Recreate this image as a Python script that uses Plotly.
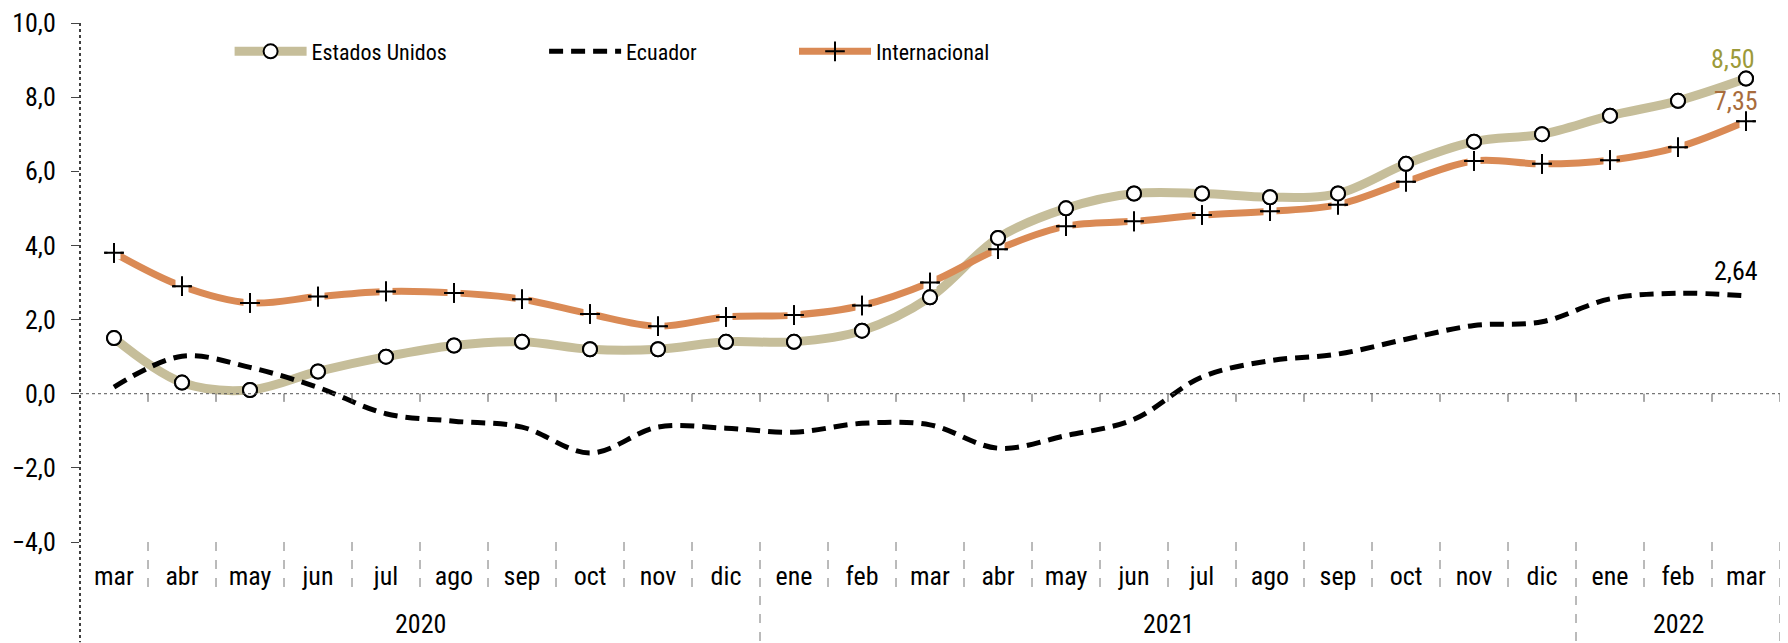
import plotly.graph_objects as go

months = ["mar", "abr", "may", "jun", "jul", "ago", "sep", "oct", "nov", "dic",
          "ene", "feb", "mar", "abr", "may", "jun", "jul", "ago", "sep", "oct", "nov", "dic",
          "ene", "feb", "mar"]
years = ["2020", "2021", "2022"]
year_spans = [(0, 9), (10, 21), (22, 24)]

estados_unidos = [1.5, 0.3, 0.1, 0.6, 1.0, 1.3, 1.4, 1.2, 1.2, 1.4,
                  1.4, 1.7, 2.6, 4.2, 5.0, 5.4, 5.4, 5.3, 5.4, 6.2, 6.8, 7.0,
                  7.5, 7.9, 8.5]
ecuador = [0.18, 1.01, 0.71, 0.17, -0.54, -0.74, -0.90, -1.60, -0.90, -0.93,
           -1.04, -0.80, -0.84, -1.47, -1.13, -0.69, 0.45, 0.89, 1.07, 1.47, 1.84, 1.94,
           2.56, 2.71, 2.64]
internacional = [3.80, 2.90, 2.45, 2.62, 2.76, 2.72, 2.55, 2.15, 1.82, 2.07,
                 2.12, 2.38, 3.00, 3.90, 4.52, 4.65, 4.82, 4.92, 5.10, 5.72, 6.28, 6.20,
                 6.30, 6.65, 7.35]

x = list(range(len(months)))
FONT = ("Roboto Condensed, Noto Sans Condensed, DejaVu Sans Condensed, "
        "Liberation Sans Narrow, Arial Narrow, Liberation Sans, Arial, sans-serif")
US_COLOR = "#C6BE9A"
INT_COLOR = "#DA8A55"

fig = go.Figure()

fig.add_trace(go.Scatter(
    x=x, y=estados_unidos, name="Estados Unidos", mode="lines+markers",
    line=dict(color=US_COLOR, width=9, shape="spline", smoothing=1),
    marker=dict(symbol="circle", size=14, color="white", line=dict(color="black", width=2)),
    legend="legend", cliponaxis=False))

fig.add_trace(go.Scatter(
    x=x, y=ecuador, name="Ecuador", mode="lines",
    line=dict(color="black", width=5, dash="14px,8px", shape="spline", smoothing=1),
    legend="legend2", cliponaxis=False))

fig.add_trace(go.Scatter(
    x=x, y=internacional, name="Internacional", mode="lines+markers",
    line=dict(color=INT_COLOR, width=7, shape="spline", smoothing=1),
    marker=dict(symbol="cross-thin", size=14, color="black", line=dict(color="black", width=2)),
    legend="legend3", cliponaxis=False))
fig.add_trace(go.Scatter(
    x=x, y=internacional, mode="markers", showlegend=False, hoverinfo="skip",
    marker=dict(symbol="square", size=13, color="white", line=dict(width=0)), cliponaxis=False))
fig.add_trace(go.Scatter(
    x=x, y=internacional, mode="markers", showlegend=False, hoverinfo="skip",
    marker=dict(symbol="cross-thin", size=14, color="black", line=dict(color="black", width=2)),
    cliponaxis=False))

fig.add_trace(go.Scatter(
    x=x, y=estados_unidos, mode="markers", showlegend=False, hoverinfo="skip",
    marker=dict(symbol="circle", size=14, color="white", line=dict(color="black", width=2)),
    cliponaxis=False))

n = len(months)
shapes = []
shapes.append(dict(type="line", xref="paper", yref="paper", x0=0, x1=0, y0=1, y1=-0.193,
                   line=dict(color="black", width=1.5, dash="dot")))
shapes.append(dict(type="line", xref="x", yref="y", x0=-0.5, x1=n - 0.5, y0=0, y1=0,
                   line=dict(color="#555", width=1, dash="dot")))
for i in range(n):
    b = i + 0.5
    shapes.append(dict(type="line", xref="x", yref="y", x0=b, x1=b, y0=0, y1=-0.22,
                       line=dict(color="#555", width=1)))
year_bounds = [s[0] - 0.5 for s in year_spans] + [n - 0.5]
for i in range(1, n):
    b = i - 0.5
    if b in year_bounds:
        continue
    shapes.append(dict(type="line", xref="x", yref="paper", x0=b, x1=b, y0=0, y1=-0.095,
                       line=dict(color="#777", width=1, dash="dash")))
for b in year_bounds[1:]:
    shapes.append(dict(type="line", xref="x", yref="paper", x0=b, x1=b, y0=0, y1=-0.193,
                       line=dict(color="#777", width=1, dash="dash")))

annotations = []
for yr, (a, b) in zip(years, year_spans):
    annotations.append(dict(x=(a + b) / 2, y=-0.158, xref="x", yref="paper", text=yr,
                            showarrow=False, font=dict(size=26, color="black", family=FONT),
                            xanchor="center", yanchor="middle"))
annotations.append(dict(x=n - 1, y=estados_unidos[-1], xref="x", yref="y",
                        text=f"{estados_unidos[-1]:.2f}".replace(".", ","),
                        showarrow=False, xanchor="center", yanchor="bottom", xshift=-13, yshift=3,
                        font=dict(size=26, color="#9C9A3A", family=FONT)))
annotations.append(dict(x=n - 1, y=internacional[-1], xref="x", yref="y",
                        text=f"{internacional[-1]:.2f}".replace(".", ","),
                        showarrow=False, xanchor="center", yanchor="bottom", xshift=-10, yshift=3,
                        font=dict(size=26, color="#A86C3C", family=FONT)))
annotations.append(dict(x=n - 1, y=ecuador[-1], xref="x", yref="y",
                        text=f"{ecuador[-1]:.2f}".replace(".", ","),
                        showarrow=False, xanchor="center", yanchor="bottom", xshift=-10, yshift=8,
                        font=dict(size=26, color="black", family=FONT)))

legend_common = dict(orientation="h", yanchor="middle", y=0.945, xanchor="left",
                     bgcolor="rgba(0,0,0,0)", borderwidth=0, itemwidth=72,
                     font=dict(size=22, color="black", family=FONT))

fig.update_layout(
    width=1788, height=643,
    margin=dict(l=80, r=8, t=18, b=101),
    plot_bgcolor="white", paper_bgcolor="white",
    font=dict(family=FONT, size=26, color="black"),
    separators=",.",
    showlegend=True,
    legend=dict(x=0.088, **legend_common),
    legend2=dict(x=0.273, **legend_common),
    legend3=dict(x=0.420, **legend_common),
    xaxis=dict(range=[-0.5, n - 0.5], tickvals=x, ticktext=months, showgrid=False,
               zeroline=False, showline=False, ticks="", ticklabelstandoff=16,
               tickfont=dict(size=26, family=FONT, color="black")),
    yaxis=dict(range=[-4, 10], tickvals=[-4, -2, 0, 2, 4, 6, 8, 10], tickformat=".1f",
               showgrid=False, zeroline=False, showline=False, ticks="outside", ticklen=8,
               tickcolor="#444", tickwidth=1, ticklabelstandoff=10,
               tickfont=dict(size=26, family=FONT, color="black")),
    shapes=shapes, annotations=annotations,
)

fig.write_html("out.html", config={"displayModeBar": False},
               post_script="document.body.style.margin='0';document.body.style.overflow='hidden';")
